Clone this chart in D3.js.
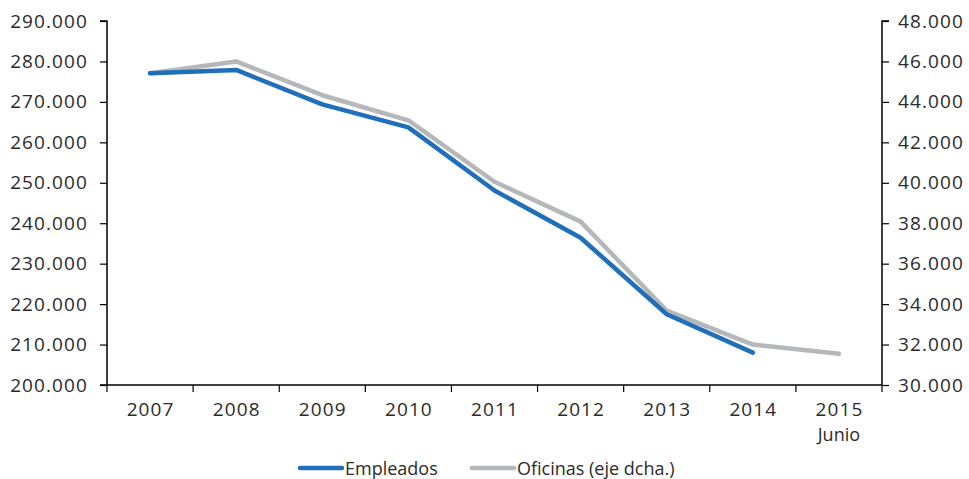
<!DOCTYPE html>
<html><head><meta charset="utf-8">
<script src="https://cdn.jsdelivr.net/npm/d3@7"></script>
<style>
body{margin:0;background:#fff;}
text{font-family:"Open Sans",sans-serif;fill:#2b2b2b;}
</style></head>
<body><svg id="c" width="969" height="479"></svg>
<script>
const years = ["2007","2008","2009","2010","2011","2012","2013","2014","2015"];
const empleados = [277100, 277900, 269400, 263700, 248100, 236400, 217500, 208000, null];
const oficinas = [45420, 46000, 44330, 43090, 40050, 38080, 33680, 32000, 31540];
const leftTicks = [200000,210000,220000,230000,240000,250000,260000,270000,280000,290000];
const rightTicks = [30000,32000,34000,36000,38000,40000,42000,44000,46000,48000];

const svg = d3.select("#c");
const L = 107, R = 882, T = 21, B = 385;
const x = d3.scaleBand().domain(years).range([L, R]);
const yL = d3.scaleLinear().domain([200000, 290000]).range([B, T]);
const yR = d3.scaleLinear().domain([30000, 48000]).range([B, T]);
const fmt = v => d3.format(",")(v).replace(/,/g, ".");

const gL = svg.append("g").attr("transform", `translate(${L},0)`)
  .call(d3.axisLeft(yL).tickValues(leftTicks).tickFormat(fmt).tickSize(7).tickPadding(12));
const gR = svg.append("g").attr("transform", `translate(${R},0)`)
  .call(d3.axisRight(yR).tickValues(rightTicks).tickFormat(fmt).tickSize(7).tickPadding(9));
[gL, gR].forEach(g => {
  g.select(".domain").attr("stroke", "#000").attr("stroke-width", 1.5);
  g.selectAll(".tick line").attr("stroke", "#000").attr("stroke-width", 1.2);
  g.selectAll("text").style("font-size", "19px").style("font-family", '"Open Sans",sans-serif')
    .style("letter-spacing", "1.1px").attr("fill", "#2b2b2b");
});
gL.select(".domain").attr("d", `M-7,${T}H0V${B}`);
gR.select(".domain").attr("d", `M7,${T}H0V${B}`);

const gB = svg.append("g").attr("transform", `translate(0,${B})`);
gB.append("line").attr("x1", L - 7).attr("x2", R).attr("stroke", "#000").attr("stroke-width", 1.5);
const bounds = years.map(d => x(d)).concat([R]);
gB.selectAll(".tk").data(bounds).enter().append("line")
  .attr("x1", d => d).attr("x2", d => d).attr("y1", 0).attr("y2", 7)
  .attr("stroke", "#000").attr("stroke-width", 1.2);
gB.selectAll(".lb").data(years).enter().append("text")
  .attr("x", d => x(d) + x.bandwidth() / 2 + 0.5).attr("y", 31)
  .attr("text-anchor", "middle").style("font-size", "19px").style("letter-spacing", "1.1px").text(d => d);
gB.append("text").attr("x", x("2015") + x.bandwidth() / 2).attr("y", 56)
  .attr("text-anchor", "middle").style("font-size", "18px").text("Junio");

const cx = d => x(d) + x.bandwidth() / 2;
const lineE = d3.line().defined(d => d[1] != null).x(d => cx(d[0])).y(d => yL(d[1]));
const lineO = d3.line().x(d => cx(d[0])).y(d => yR(d[1]));

svg.append("path").datum(years.map((y, i) => [y, oficinas[i]]))
  .attr("d", lineO).attr("fill", "none").attr("stroke", "#b5b8bb")
  .attr("stroke-width", 4.5).attr("stroke-linecap", "round").attr("stroke-linejoin", "round");
svg.append("path").datum(years.map((y, i) => [y, empleados[i]]))
  .attr("d", lineE).attr("fill", "none").attr("stroke", "#1f6fba")
  .attr("stroke-width", 4.5).attr("stroke-linecap", "round").attr("stroke-linejoin", "round");

const leg = svg.append("g");
const items = [{t:"Empleados", c:"#1f6fba", x:300}, {t:"Oficinas (eje dcha.)", c:"#b5b8bb", x:472}];
items.forEach(it => {
  leg.append("line").attr("x1", it.x).attr("x2", it.x + 42).attr("y1", 468).attr("y2", 468)
    .attr("stroke", it.c).attr("stroke-width", 4.5).attr("stroke-linecap", "round");
  leg.append("text").attr("x", it.x + 45).attr("y", 475).style("font-size", "18px").text(it.t);
});
</script></body></html>
